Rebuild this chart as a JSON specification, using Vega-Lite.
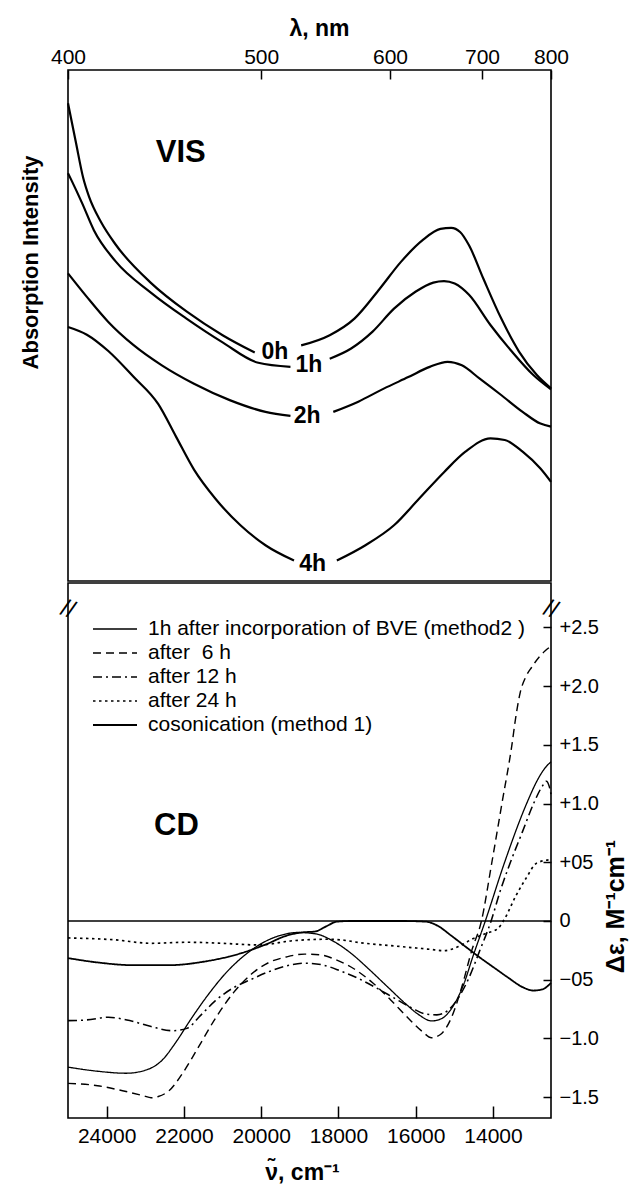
{
  "$schema": "https://vega.github.io/schema/vega-lite/v6.json",
  "background": "white",
  "padding": {"left": 18, "top": 16, "right": 3, "bottom": 2},
  "spacing": 0,
  "config": {
    "font": "Liberation Sans",
    "view": {"stroke": "black", "strokeWidth": 1.6},
    "axis": {
      "grid": false, "domain": false,
      "labelFont": "Liberation Sans", "labelFontSize": 21, "labelColor": "black",
      "tickColor": "black", "tickWidth": 1.5,
      "titleFont": "Liberation Sans", "titleFontWeight": "bold", "titleColor": "black",
      "labelFlush": false
    }
  },
  "vconcat": [
    {
      "width": 483,
      "height": 511,
      "layer": [
        {
          "data": {"values": [
            {"g": "0h-a", "wn": 25000, "I": 93.5}, {"g": "0h-a", "wn": 24800, "I": 86.0}, {"g": "0h-a", "wn": 24604, "I": 78.8}, {"g": "0h-a", "wn": 24456, "I": 75.2}, {"g": "0h-a", "wn": 24142, "I": 70.2}, {"g": "0h-a", "wn": 23773, "I": 65.9}, {"g": "0h-a", "wn": 22848, "I": 58.3}, {"g": "0h-a", "wn": 21924, "I": 52.7}, {"g": "0h-a", "wn": 20999, "I": 48.1}, {"g": "0h-a", "wn": 20167, "I": 44.7},
            {"g": "0h-b", "wn": 18966, "I": 46.1}, {"g": "0h-b", "wn": 18227, "I": 48.1}, {"g": "0h-b", "wn": 17580, "I": 51.4}, {"g": "0h-b", "wn": 16932, "I": 57.2}, {"g": "0h-b", "wn": 16378, "I": 62.5}, {"g": "0h-b", "wn": 15823, "I": 66.7}, {"g": "0h-b", "wn": 15361, "I": 68.9}, {"g": "0h-b", "wn": 15084, "I": 69.1}, {"g": "0h-b", "wn": 14853, "I": 68.3}, {"g": "0h-b", "wn": 14622, "I": 65.7}, {"g": "0h-b", "wn": 14252, "I": 59.2}, {"g": "0h-b", "wn": 13790, "I": 51.4}, {"g": "0h-b", "wn": 13328, "I": 44.9}, {"g": "0h-b", "wn": 12866, "I": 40.3}, {"g": "0h-b", "wn": 12500, "I": 37.7},
            {"g": "1h-a", "wn": 25000, "I": 79.8}, {"g": "1h-a", "wn": 24909, "I": 78.4}, {"g": "1h-a", "wn": 24632, "I": 73.9}, {"g": "1h-a", "wn": 24327, "I": 68.6}, {"g": "1h-a", "wn": 23773, "I": 62.6}, {"g": "1h-a", "wn": 22848, "I": 56.4}, {"g": "1h-a", "wn": 21924, "I": 51.3}, {"g": "1h-a", "wn": 20999, "I": 46.7}, {"g": "1h-a", "wn": 20075, "I": 42.7}, {"g": "1h-a", "wn": 19243, "I": 41.9},
            {"g": "1h-b", "wn": 18227, "I": 43.5}, {"g": "1h-b", "wn": 17672, "I": 45.5}, {"g": "1h-b", "wn": 17117, "I": 48.8}, {"g": "1h-b", "wn": 16563, "I": 53.3}, {"g": "1h-b", "wn": 16008, "I": 56.6}, {"g": "1h-b", "wn": 15546, "I": 58.4}, {"g": "1h-b", "wn": 15269, "I": 58.7}, {"g": "1h-b", "wn": 14992, "I": 58.2}, {"g": "1h-b", "wn": 14622, "I": 56.0}, {"g": "1h-b", "wn": 14067, "I": 50.1}, {"g": "1h-b", "wn": 13513, "I": 44.9}, {"g": "1h-b", "wn": 12958, "I": 40.3}, {"g": "1h-b", "wn": 12500, "I": 37.5},
            {"g": "2h-a", "wn": 25000, "I": 60.2}, {"g": "2h-a", "wn": 24512, "I": 55.6}, {"g": "2h-a", "wn": 23957, "I": 50.7}, {"g": "2h-a", "wn": 23310, "I": 46.2}, {"g": "2h-a", "wn": 22571, "I": 42.2}, {"g": "2h-a", "wn": 21739, "I": 38.6}, {"g": "2h-a", "wn": 20815, "I": 35.4}, {"g": "2h-a", "wn": 19890, "I": 33.1}, {"g": "2h-a", "wn": 19243, "I": 32.3},
            {"g": "2h-b", "wn": 18134, "I": 33.1}, {"g": "2h-b", "wn": 17487, "I": 35.1}, {"g": "2h-b", "wn": 16840, "I": 37.6}, {"g": "2h-b", "wn": 16193, "I": 39.9}, {"g": "2h-b", "wn": 15639, "I": 41.9}, {"g": "2h-b", "wn": 15177, "I": 42.9}, {"g": "2h-b", "wn": 14807, "I": 42.2}, {"g": "2h-b", "wn": 14345, "I": 39.6}, {"g": "2h-b", "wn": 13790, "I": 36.4}, {"g": "2h-b", "wn": 13235, "I": 33.1}, {"g": "2h-b", "wn": 12773, "I": 30.8}, {"g": "2h-b", "wn": 12500, "I": 30.2},
            {"g": "4h-a", "wn": 25000, "I": 49.7}, {"g": "4h-a", "wn": 24512, "I": 48.2}, {"g": "4h-a", "wn": 23957, "I": 45.0}, {"g": "4h-a", "wn": 23310, "I": 40.0}, {"g": "4h-a", "wn": 22663, "I": 34.6}, {"g": "4h-a", "wn": 22201, "I": 28.2}, {"g": "4h-a", "wn": 21739, "I": 21.8}, {"g": "4h-a", "wn": 21184, "I": 16.1}, {"g": "4h-a", "wn": 20537, "I": 10.9}, {"g": "4h-a", "wn": 19890, "I": 7.0}, {"g": "4h-a", "wn": 19151, "I": 4.0},
            {"g": "4h-b", "wn": 18042, "I": 4.0}, {"g": "4h-b", "wn": 17302, "I": 7.0}, {"g": "4h-b", "wn": 16563, "I": 10.9}, {"g": "4h-b", "wn": 15916, "I": 16.1}, {"g": "4h-b", "wn": 15269, "I": 21.3}, {"g": "4h-b", "wn": 14715, "I": 25.3}, {"g": "4h-b", "wn": 14067, "I": 27.9}, {"g": "4h-b", "wn": 13697, "I": 27.6}, {"g": "4h-b", "wn": 13235, "I": 25.3}, {"g": "4h-b", "wn": 12773, "I": 22.0}, {"g": "4h-b", "wn": 12500, "I": 19.4}
          ]},
          "mark": {"type": "line", "color": "black", "strokeWidth": 2.2, "interpolate": "monotone"},
          "encoding": {
            "x": {
              "field": "wn", "type": "quantitative",
              "scale": {"domain": [12500, 25000], "reverse": true, "nice": false, "zero": false},
              "axis": {
                "orient": "top", "title": "λ, nm", "titleFontSize": 23, "titlePadding": 6, "titleX": 251,
                "values": [25000, 20000, 16666.667, 14285.714, 12500],
                "labelExpr": "format(1e7/datum.value, 'd')",
                "tickSize": -9, "labelPadding": 12
              }
            },
            "y": {
              "field": "I", "type": "quantitative",
              "scale": {"domain": [0, 100], "nice": false, "zero": false},
              "axis": {"title": "Absorption Intensity", "titleFontSize": 22, "titlePadding": 26, "titleY": 192, "labels": false, "ticks": false}
            },
            "detail": {"field": "g"}
          }
        },
        {
          "data": {"values": [
            {"wn": 19643, "I": 44.9, "t": "0h"},
            {"wn": 18763, "I": 42.2, "t": "1h"},
            {"wn": 18809, "I": 32.3, "t": "2h"},
            {"wn": 18670, "I": 3.4, "t": "4h"}
          ]},
          "mark": {"type": "text", "fontWeight": "bold", "fontSize": 23, "align": "center", "baseline": "middle", "color": "black"},
          "encoding": {
            "x": {"field": "wn", "type": "quantitative"},
            "y": {"field": "I", "type": "quantitative"},
            "text": {"field": "t"}
          }
        },
        {
          "data": {"values": [{"wn": 22730, "I": 83.7, "t": "VIS"}]},
          "mark": {"type": "text", "fontWeight": "bold", "fontSize": 31, "align": "left", "baseline": "middle", "color": "black"},
          "encoding": {
            "x": {"field": "wn", "type": "quantitative"},
            "y": {"field": "I", "type": "quantitative"},
            "text": {"field": "t"}
          }
        }
      ]
    },
    {
      "width": 483,
      "height": 535,
      "layer": [
        {
          "data": {"values": [
            {"s": "1h after incorporation of BVE (method2 )", "wn": 25000, "v": -1.244}, {"s": "1h after incorporation of BVE (method2 )", "wn": 24235, "v": -1.279}, {"s": "1h after incorporation of BVE (method2 )", "wn": 23495, "v": -1.296}, {"s": "1h after incorporation of BVE (method2 )", "wn": 22941, "v": -1.264}, {"s": "1h after incorporation of BVE (method2 )", "wn": 22571, "v": -1.187}, {"s": "1h after incorporation of BVE (method2 )", "wn": 22201, "v": -1.029}, {"s": "1h after incorporation of BVE (method2 )", "wn": 21832, "v": -0.842}, {"s": "1h after incorporation of BVE (method2 )", "wn": 21369, "v": -0.626}, {"s": "1h after incorporation of BVE (method2 )", "wn": 20907, "v": -0.44}, {"s": "1h after incorporation of BVE (method2 )", "wn": 20445, "v": -0.296}, {"s": "1h after incorporation of BVE (method2 )", "wn": 19983, "v": -0.19}, {"s": "1h after incorporation of BVE (method2 )", "wn": 19521, "v": -0.124}, {"s": "1h after incorporation of BVE (method2 )", "wn": 19059, "v": -0.098}, {"s": "1h after incorporation of BVE (method2 )", "wn": 18596, "v": -0.109}, {"s": "1h after incorporation of BVE (method2 )", "wn": 18134, "v": -0.172}, {"s": "1h after incorporation of BVE (method2 )", "wn": 17672, "v": -0.276}, {"s": "1h after incorporation of BVE (method2 )", "wn": 17210, "v": -0.411}, {"s": "1h after incorporation of BVE (method2 )", "wn": 16748, "v": -0.555}, {"s": "1h after incorporation of BVE (method2 )", "wn": 16285, "v": -0.698}, {"s": "1h after incorporation of BVE (method2 )", "wn": 15916, "v": -0.799}, {"s": "1h after incorporation of BVE (method2 )", "wn": 15593, "v": -0.851}, {"s": "1h after incorporation of BVE (method2 )", "wn": 15315, "v": -0.828}, {"s": "1h after incorporation of BVE (method2 )", "wn": 15038, "v": -0.727}, {"s": "1h after incorporation of BVE (method2 )", "wn": 14760, "v": -0.54}, {"s": "1h after incorporation of BVE (method2 )", "wn": 14529, "v": -0.31}, {"s": "1h after incorporation of BVE (method2 )", "wn": 14200, "v": 0.0}, {"s": "1h after incorporation of BVE (method2 )", "wn": 13700, "v": 0.5}, {"s": "1h after incorporation of BVE (method2 )", "wn": 13130, "v": 1.0}, {"s": "1h after incorporation of BVE (method2 )", "wn": 12850, "v": 1.2}, {"s": "1h after incorporation of BVE (method2 )", "wn": 12660, "v": 1.3}, {"s": "1h after incorporation of BVE (method2 )", "wn": 12500, "v": 1.355},
            {"s": "after \u00a06 h", "wn": 25000, "v": -1.382}, {"s": "after \u00a06 h", "wn": 24235, "v": -1.402}, {"s": "after \u00a06 h", "wn": 23588, "v": -1.445}, {"s": "after \u00a06 h", "wn": 23033, "v": -1.489}, {"s": "after \u00a06 h", "wn": 22850, "v": -1.505}, {"s": "after \u00a06 h", "wn": 22663, "v": -1.494}, {"s": "after \u00a06 h", "wn": 22386, "v": -1.445}, {"s": "after \u00a06 h", "wn": 22016, "v": -1.287}, {"s": "after \u00a06 h", "wn": 21647, "v": -1.086}, {"s": "after \u00a06 h", "wn": 21184, "v": -0.828}, {"s": "after \u00a06 h", "wn": 20722, "v": -0.612}, {"s": "after \u00a06 h", "wn": 20260, "v": -0.454}, {"s": "after \u00a06 h", "wn": 19798, "v": -0.353}, {"s": "after \u00a06 h", "wn": 19336, "v": -0.305}, {"s": "after \u00a06 h", "wn": 18874, "v": -0.282}, {"s": "after \u00a06 h", "wn": 18504, "v": -0.287}, {"s": "after \u00a06 h", "wn": 18042, "v": -0.333}, {"s": "after \u00a06 h", "wn": 17580, "v": -0.411}, {"s": "after \u00a06 h", "wn": 17117, "v": -0.526}, {"s": "after \u00a06 h", "wn": 16655, "v": -0.67}, {"s": "after \u00a06 h", "wn": 16193, "v": -0.828}, {"s": "after \u00a06 h", "wn": 15823, "v": -0.943}, {"s": "after \u00a06 h", "wn": 15593, "v": -0.994}, {"s": "after \u00a06 h", "wn": 15361, "v": -0.966}, {"s": "after \u00a06 h", "wn": 15084, "v": -0.828}, {"s": "after \u00a06 h", "wn": 14807, "v": -0.56}, {"s": "after \u00a06 h", "wn": 14550, "v": -0.25}, {"s": "after \u00a06 h", "wn": 14300, "v": 0.0}, {"s": "after \u00a06 h", "wn": 14030, "v": 0.5}, {"s": "after \u00a06 h", "wn": 13770, "v": 1.0}, {"s": "after \u00a06 h", "wn": 13520, "v": 1.48}, {"s": "after \u00a06 h", "wn": 13400, "v": 1.76}, {"s": "after \u00a06 h", "wn": 13300, "v": 1.94}, {"s": "after \u00a06 h", "wn": 13150, "v": 2.08}, {"s": "after \u00a06 h", "wn": 13000, "v": 2.16}, {"s": "after \u00a06 h", "wn": 12800, "v": 2.25}, {"s": "after \u00a06 h", "wn": 12650, "v": 2.3}, {"s": "after \u00a06 h", "wn": 12500, "v": 2.34},
            {"s": "after 12 h", "wn": 25000, "v": -0.848}, {"s": "after 12 h", "wn": 24512, "v": -0.842}, {"s": "after 12 h", "wn": 23957, "v": -0.819}, {"s": "after 12 h", "wn": 23403, "v": -0.848}, {"s": "after 12 h", "wn": 22848, "v": -0.899}, {"s": "after 12 h", "wn": 22294, "v": -0.934}, {"s": "after 12 h", "wn": 21924, "v": -0.914}, {"s": "after 12 h", "wn": 21554, "v": -0.799}, {"s": "after 12 h", "wn": 21184, "v": -0.678}, {"s": "after 12 h", "wn": 20722, "v": -0.569}, {"s": "after 12 h", "wn": 20260, "v": -0.497}, {"s": "after 12 h", "wn": 19798, "v": -0.431}, {"s": "after 12 h", "wn": 19336, "v": -0.382}, {"s": "after 12 h", "wn": 18874, "v": -0.359}, {"s": "after 12 h", "wn": 18412, "v": -0.374}, {"s": "after 12 h", "wn": 17949, "v": -0.425}, {"s": "after 12 h", "wn": 17487, "v": -0.489}, {"s": "after 12 h", "wn": 17025, "v": -0.569}, {"s": "after 12 h", "wn": 16563, "v": -0.655}, {"s": "after 12 h", "wn": 16101, "v": -0.741}, {"s": "after 12 h", "wn": 15731, "v": -0.793}, {"s": "after 12 h", "wn": 15454, "v": -0.799}, {"s": "after 12 h", "wn": 15177, "v": -0.764}, {"s": "after 12 h", "wn": 14899, "v": -0.655}, {"s": "after 12 h", "wn": 14622, "v": -0.483}, {"s": "after 12 h", "wn": 14345, "v": -0.253}, {"s": "after 12 h", "wn": 14050, "v": 0.0}, {"s": "after 12 h", "wn": 13820, "v": 0.25}, {"s": "after 12 h", "wn": 13550, "v": 0.5}, {"s": "after 12 h", "wn": 13250, "v": 0.75}, {"s": "after 12 h", "wn": 12950, "v": 1.0}, {"s": "after 12 h", "wn": 12720, "v": 1.15}, {"s": "after 12 h", "wn": 12620, "v": 1.19}, {"s": "after 12 h", "wn": 12550, "v": 1.15}, {"s": "after 12 h", "wn": 12500, "v": 1.08},
            {"s": "after 24 h", "wn": 25000, "v": -0.144}, {"s": "after 24 h", "wn": 23772, "v": -0.161}, {"s": "after 24 h", "wn": 22848, "v": -0.19}, {"s": "after 24 h", "wn": 21924, "v": -0.181}, {"s": "after 24 h", "wn": 20999, "v": -0.19}, {"s": "after 24 h", "wn": 20075, "v": -0.204}, {"s": "after 24 h", "wn": 19151, "v": -0.167}, {"s": "after 24 h", "wn": 18227, "v": -0.155}, {"s": "after 24 h", "wn": 17302, "v": -0.19}, {"s": "after 24 h", "wn": 16378, "v": -0.218}, {"s": "after 24 h", "wn": 15639, "v": -0.241}, {"s": "after 24 h", "wn": 15269, "v": -0.253}, {"s": "after 24 h", "wn": 14899, "v": -0.218}, {"s": "after 24 h", "wn": 14529, "v": -0.152}, {"s": "after 24 h", "wn": 14160, "v": -0.103}, {"s": "after 24 h", "wn": 13882, "v": -0.066}, {"s": "after 24 h", "wn": 13698, "v": 0.02}, {"s": "after 24 h", "wn": 13420, "v": 0.207}, {"s": "after 24 h", "wn": 13143, "v": 0.365}, {"s": "after 24 h", "wn": 12866, "v": 0.494}, {"s": "after 24 h", "wn": 12500, "v": 0.523},
            {"s": "cosonication (method 1)", "wn": 25000, "v": -0.316}, {"s": "cosonication (method 1)", "wn": 24235, "v": -0.353}, {"s": "cosonication (method 1)", "wn": 23310, "v": -0.376}, {"s": "cosonication (method 1)", "wn": 22386, "v": -0.376}, {"s": "cosonication (method 1)", "wn": 21462, "v": -0.345}, {"s": "cosonication (method 1)", "wn": 20537, "v": -0.276}, {"s": "cosonication (method 1)", "wn": 19890, "v": -0.201}, {"s": "cosonication (method 1)", "wn": 19336, "v": -0.124}, {"s": "cosonication (method 1)", "wn": 18966, "v": -0.098}, {"s": "cosonication (method 1)", "wn": 18596, "v": -0.089}, {"s": "cosonication (method 1)", "wn": 18319, "v": -0.046}, {"s": "cosonication (method 1)", "wn": 18042, "v": -0.006}, {"s": "cosonication (method 1)", "wn": 17672, "v": 0.0}, {"s": "cosonication (method 1)", "wn": 16378, "v": 0.0}, {"s": "cosonication (method 1)", "wn": 15731, "v": -0.006}, {"s": "cosonication (method 1)", "wn": 15454, "v": -0.037}, {"s": "cosonication (method 1)", "wn": 15084, "v": -0.124}, {"s": "cosonication (method 1)", "wn": 14714, "v": -0.218}, {"s": "cosonication (method 1)", "wn": 14345, "v": -0.31}, {"s": "cosonication (method 1)", "wn": 13975, "v": -0.397}, {"s": "cosonication (method 1)", "wn": 13605, "v": -0.483}, {"s": "cosonication (method 1)", "wn": 13235, "v": -0.563}, {"s": "cosonication (method 1)", "wn": 12958, "v": -0.592}, {"s": "cosonication (method 1)", "wn": 12727, "v": -0.583}, {"s": "cosonication (method 1)", "wn": 12500, "v": -0.526}
          ]},
          "mark": {"type": "line", "color": "black", "interpolate": "monotone"},
          "encoding": {
            "x": {
              "field": "wn", "type": "quantitative",
              "scale": {"domain": [12500, 25000], "reverse": true, "nice": false, "zero": false},
              "axis": {
                "orient": "bottom", "title": "ν̃, cm⁻¹", "titleFontSize": 23, "titlePadding": 15, "titleX": 234,
                "values": [24000, 22000, 20000, 18000, 16000, 14000], "format": "d",
                "tickSize": -12, "labelPadding": 19
              }
            },
            "y": {
              "field": "v", "type": "quantitative",
              "scale": {"domain": [-1.677, 2.877], "nice": false, "zero": false},
              "axis": {
                "orient": "right", "title": "Δε, M⁻¹cm⁻¹", "titleFontSize": 25, "titleAngle": 270, "titleBaseline": "top", "titlePadding": 5, "titleY": 323,
                "values": [-1.5, -1, -0.5, 0, 0.5, 1, 1.5, 2, 2.5],
                "labelExpr": "datum.value == 0 ? '0' : (abs(datum.value) == 0.5 ? (datum.value > 0 ? '+05' : '−05') : ((datum.value > 0 ? '+' : '−') + format(abs(datum.value), '.1f')))",
                "labelFontSize": 20,
                "tickSize": -8, "labelPadding": 16
              }
            },
            "strokeDash": {
              "field": "s", "type": "nominal",
              "scale": {
                "domain": ["1h after incorporation of BVE (method2 )", "after \u00a06 h", "after 12 h", "after 24 h", "cosonication (method 1)"],
                "range": [[1, 0], [8, 5], [9, 4, 2, 4], [2.5, 3.5], [1, 0]]
              },
              "legend": {"title": null, "orient": "none", "legendX": 24, "legendY": 547, "symbolType": "stroke", "symbolSize": 1936, "clipHeight": 24, "symbolStrokeColor": "black", "labelFont": "Liberation Sans", "labelFontSize": 21, "labelColor": "black", "rowPadding": 0, "labelOffset": 10, "labelLimit": 500}
            },
            "strokeWidth": {
              "field": "s", "type": "nominal",
              "scale": {
                "domain": ["1h after incorporation of BVE (method2 )", "after \u00a06 h", "after 12 h", "after 24 h", "cosonication (method 1)"],
                "range": [1.3, 1.8, 1.8, 2.6, 3.2]
              },
              "legend": {"title": null, "orient": "none", "legendX": 24, "legendY": 547, "symbolType": "stroke", "symbolSize": 1936, "clipHeight": 24, "symbolStrokeColor": "black", "labelFont": "Liberation Sans", "labelFontSize": 21, "labelColor": "black", "rowPadding": 0, "labelOffset": 10, "labelLimit": 500}
            }
          }
        },
        {
          "data": {"values": [{"v": 0}]},
          "mark": {"type": "rule", "color": "black", "strokeWidth": 1.4},
          "encoding": {"y": {"field": "v", "type": "quantitative"}}
        },
        {
          "data": {"values": [{"wn": 22774, "v": 0.81, "t": "CD"}]},
          "mark": {"type": "text", "fontWeight": "bold", "fontSize": 31, "align": "left", "baseline": "middle", "color": "black"},
          "encoding": {
            "x": {"field": "wn", "type": "quantitative"},
            "y": {"field": "v", "type": "quantitative"},
            "text": {"field": "t"}
          }
        },
        {
          "data": {"values": [{"wn": 25000, "v": 2.65, "t": "//"}, {"wn": 12500, "v": 2.65, "t": "//"}]},
          "mark": {"type": "text", "fontSize": 24, "angle": 20, "align": "center", "baseline": "middle", "color": "black"},
          "encoding": {
            "x": {"field": "wn", "type": "quantitative"},
            "y": {"field": "v", "type": "quantitative"},
            "text": {"field": "t"}
          }
        }
      ]
    }
  ]
}
